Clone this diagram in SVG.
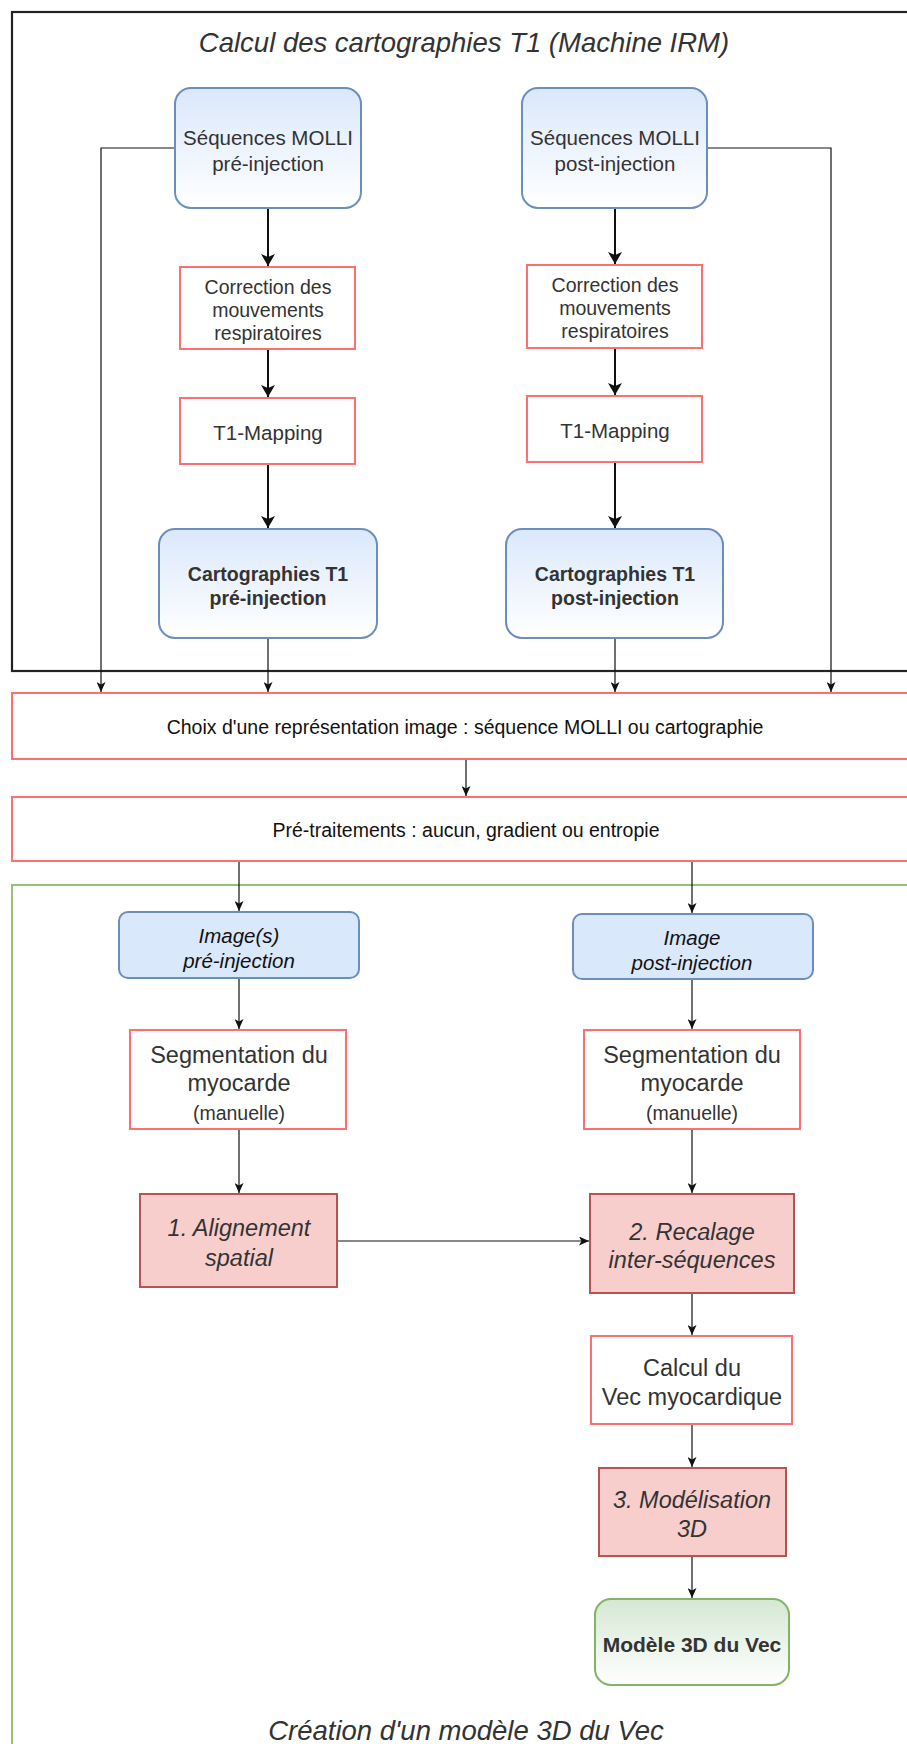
<svg xmlns="http://www.w3.org/2000/svg" width="907" height="1744" viewBox="0 0 907 1744">
<style>
text{font-family:"Liberation Sans",Arial,sans-serif;fill:#333;text-anchor:middle;dominant-baseline:central}
.blueR{fill:url(#gBlue);stroke:#6c8ebf;stroke-width:2}
.blueS{fill:#dae8fc;stroke:#6c8ebf;stroke-width:2}
.red{fill:#fff;stroke:#ff6f6f;stroke-width:2}
.redF{fill:#f8cecc;stroke:#b85450;stroke-width:2}
.green{fill:url(#gGreen);stroke:#82b366;stroke-width:2}
.thick{fill:none;stroke:#111;stroke-width:2;marker-end:url(#aThick)}
.thin{fill:none;stroke:#111;stroke-width:1.2;marker-end:url(#aThin)}
.it{font-style:italic}
.b{font-weight:bold}
</style>
<defs>
<linearGradient id="gBlue" x1="0" y1="0" x2="0" y2="1"><stop offset="0" stop-color="#dae8fc"/><stop offset="1" stop-color="#ffffff"/></linearGradient>
<linearGradient id="gGreen" x1="0" y1="0" x2="0" y2="1"><stop offset="0" stop-color="#d5e8d4"/><stop offset="1" stop-color="#ffffff"/></linearGradient>
<marker id="aThick" markerUnits="userSpaceOnUse" viewBox="0 0 12 14" markerWidth="12" markerHeight="14" refX="12" refY="7" orient="auto"><path d="M0,0 L12,7 L0,14 L3,7 z" fill="#111"/></marker>
<marker id="aThin" markerUnits="userSpaceOnUse" viewBox="0 0 10 9" markerWidth="10" markerHeight="9" refX="10" refY="4.5" orient="auto"><path d="M0,0 L10,4.5 L0,9 L2.5,4.5 z" fill="#111"/></marker>
</defs>
<rect width="907" height="1744" fill="#fff"/>

<g id="frame-top">
<rect x="12" y="12" width="920" height="659" fill="none" stroke="#222" stroke-width="2.2"/>
<text x="464" y="42" class="it" style="font-size:27.5px">Calcul des cartographies T1 (Machine IRM)</text>
</g>
<g id="frame-bottom">
<rect x="12" y="885" width="920" height="900" fill="none" stroke="#97c07a" stroke-width="2"/>
<text x="466" y="1730" class="it" style="font-size:27.5px">Création d'un modèle 3D du Vec</text>
</g>

<g id="connectors">
<path class="thick" d="M268,208 V266"/>
<path class="thick" d="M268,349 V397"/>
<path class="thick" d="M268,464 V528"/>
<path class="thick" d="M615,208 V264"/>
<path class="thick" d="M615,348 V395"/>
<path class="thick" d="M615,462 V528"/>
<path class="thin" d="M175,148 H101 V692"/>
<path class="thin" d="M707,148 H831 V692"/>
<path class="thin" d="M268,638 V692"/>
<path class="thin" d="M615,638 V692"/>
<path class="thin" d="M466,759 V796"/>
<path class="thin" d="M239,861 V911"/>
<path class="thin" d="M692,861 V913"/>
<path class="thin" d="M239,978 V1029"/>
<path class="thin" d="M692,979 V1029"/>
<path class="thin" d="M239,1129 V1193"/>
<path class="thin" d="M692,1129 V1193"/>
<path class="thin" d="M337,1241 H589"/>
<path class="thin" d="M692,1293 V1335"/>
<path class="thin" d="M692,1424 V1467"/>
<path class="thin" d="M692,1556 V1598"/>
</g>

<g id="molli-pre">
<rect x="175" y="88" width="186" height="120" rx="16" class="blueR"/>
<text x="268" y="137" style="font-size:20.5px">Séquences MOLLI</text>
<text x="268" y="163" style="font-size:20.5px">pré-injection</text>
</g>
<g id="molli-post">
<rect x="522" y="88" width="185" height="120" rx="16" class="blueR"/>
<text x="615" y="137" style="font-size:20.5px">Séquences MOLLI</text>
<text x="615" y="163" style="font-size:20.5px">post-injection</text>
</g>
<g id="corr-pre">
<rect x="180" y="267" width="175" height="82" class="red"/>
<text x="268" y="287" style="font-size:19.5px">Correction des</text>
<text x="268" y="310" style="font-size:19.5px">mouvements</text>
<text x="268" y="333" style="font-size:19.5px">respiratoires</text>
</g>
<g id="corr-post">
<rect x="527" y="265" width="175" height="83" class="red"/>
<text x="615" y="285" style="font-size:19.5px">Correction des</text>
<text x="615" y="308" style="font-size:19.5px">mouvements</text>
<text x="615" y="331" style="font-size:19.5px">respiratoires</text>
</g>
<g id="t1-pre">
<rect x="180" y="398" width="175" height="66" class="red"/>
<text x="268" y="432" style="font-size:20.5px">T1-Mapping</text>
</g>
<g id="t1-post">
<rect x="527" y="396" width="175" height="66" class="red"/>
<text x="615" y="430" style="font-size:20.5px">T1-Mapping</text>
</g>
<g id="carto-pre">
<rect x="159" y="529" width="218" height="109" rx="16" class="blueR"/>
<text x="268" y="574" class="b" style="font-size:19.5px">Cartographies T1</text>
<text x="268" y="598" class="b" style="font-size:19.5px">pré-injection</text>
</g>
<g id="carto-post">
<rect x="506" y="529" width="217" height="109" rx="16" class="blueR"/>
<text x="615" y="574" class="b" style="font-size:19.5px">Cartographies T1</text>
<text x="615" y="598" class="b" style="font-size:19.5px">post-injection</text>
</g>
<g id="choix">
<rect x="12" y="693" width="920" height="66" class="red"/>
<text x="465" y="727" style="font-size:19.5px;fill:#111">Choix d'une représentation image : séquence MOLLI ou cartographie</text>
</g>
<g id="pretraitements">
<rect x="12" y="797" width="920" height="64" class="red"/>
<text x="466" y="830" style="font-size:19.5px;fill:#111">Pré-traitements : aucun, gradient ou entropie</text>
</g>
<g id="image-pre">
<rect x="119" y="912" width="240" height="66" rx="9" class="blueS"/>
<text x="239" y="935" class="it" style="font-size:20.5px;fill:#111">Image(s)</text>
<text x="239" y="960" class="it" style="font-size:20.5px;fill:#111">pré-injection</text>
</g>
<g id="image-post">
<rect x="573" y="914" width="240" height="65" rx="9" class="blueS"/>
<text x="692" y="937" class="it" style="font-size:20.5px;fill:#111">Image</text>
<text x="692" y="962" class="it" style="font-size:20.5px;fill:#111">post-injection</text>
</g>
<g id="seg-pre">
<rect x="130" y="1030" width="216" height="99" class="red"/>
<text x="239" y="1055" style="font-size:23.5px">Segmentation du</text>
<text x="239" y="1083" style="font-size:23.5px">myocarde</text>
<text x="239" y="1113" style="font-size:19.5px">(manuelle)</text>
</g>
<g id="seg-post">
<rect x="584" y="1030" width="216" height="99" class="red"/>
<text x="692" y="1055" style="font-size:23.5px">Segmentation du</text>
<text x="692" y="1083" style="font-size:23.5px">myocarde</text>
<text x="692" y="1113" style="font-size:19.5px">(manuelle)</text>
</g>
<g id="alignement">
<rect x="140" y="1194" width="197" height="93" class="redF"/>
<text x="239" y="1228" class="it" style="font-size:23.5px">1. Alignement</text>
<text x="239" y="1258" class="it" style="font-size:23.5px">spatial</text>
</g>
<g id="recalage">
<rect x="590" y="1194" width="204" height="99" class="redF"/>
<text x="692" y="1232" class="it" style="font-size:23.5px">2. Recalage</text>
<text x="692" y="1260" class="it" style="font-size:23.5px">inter-séquences</text>
</g>
<g id="calcul-vec">
<rect x="591" y="1336" width="201" height="88" class="red"/>
<text x="692" y="1368" style="font-size:23.5px">Calcul du</text>
<text x="692" y="1397" style="font-size:23.5px">Vec myocardique</text>
</g>
<g id="modelisation">
<rect x="599" y="1468" width="187" height="88" class="redF"/>
<text x="692" y="1500" class="it" style="font-size:23.5px">3. Modélisation</text>
<text x="692" y="1529" class="it" style="font-size:23.5px">3D</text>
</g>
<g id="modele-3d">
<rect x="595" y="1599" width="194" height="86" rx="16" class="green"/>
<text x="692" y="1644" class="b" style="font-size:21px">Modèle 3D du Vec</text>
</g>
</svg>
